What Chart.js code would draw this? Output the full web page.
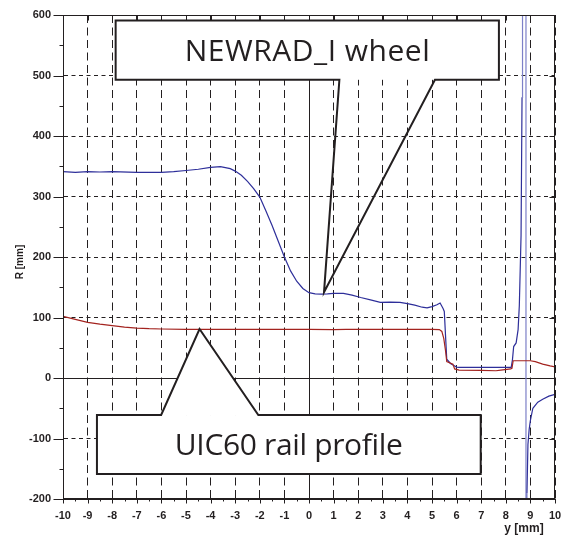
<!DOCTYPE html>
<html><head><meta charset="utf-8">
<script src="https://cdn.jsdelivr.net/npm/chart.js@4.4.0/dist/chart.umd.min.js"></script>
<style>html,body{margin:0;padding:0;background:#fff;} canvas{display:block;}</style>
</head><body>
<canvas id="c" width="562" height="541"></canvas>
<script>
// ---- data ----
const wheelY = [-10,-9.5,-9,-8.5,-8,-7,-6,-5.5,-5,-4.5,-4,-3.6,-3.2,-3.0,-2.75,-2.5,-2.25,-2,-1.75,-1.5,-1.25,-1,-0.75,-0.5,-0.25,0,0.25,0.5,0.75,1.0,1.4,1.75,2.1,2.5,2.9,3.3,3.7,4.0,4.3,4.6,4.8,5.0,5.2,5.33,5.45,5.5,5.55,5.6,5.75,5.87,6.0,6.1,7.0,8.0,8.22,8.27,8.32,8.42,8.5,8.55,8.62,8.66,8.68,8.82,8.82,8.86,8.9,8.95,9.0,9.1,9.3,9.5,9.75,10];
const wheelR = [341,340,341,340.5,341,340,340,341,343,345,348,349.5,346,342,335,325,313,299,276,252,226,200,177,160,148,141,139,138.5,139,140,140,137,133,129,125,125.5,125,123,120.5,117,116,118,121,124,115,110,70,31,24,21,18,17.5,17.5,17.5,17.5,30,52,58,80,120,235,464,3000,3000,-3000,-190,-110,-85,-70,-50,-40,-35,-30,-27];
const railY = [-10,-9.5,-9,-8.5,-8,-7.5,-7,-6.5,-6,-5,-4,0,1,1.5,2,3,4,5,5.3,5.4,5.48,5.55,5.6,5.85,5.92,6.1,7,7.6,7.8,8.2,8.25,8.3,9.0,9.2,9.5,9.8,10];
const railR = [102,97,92,89,86.5,84,82.5,81.5,81,80.5,80.5,80.5,80,80.5,80.5,80.5,80.5,80.5,80,77,65,45,27,23,15,13,12.5,12,13,15,16,28.5,28.5,27,23,20,18.5];
const xTickValues = [-10,-9,-8,-7,-6,-5,-4,-3,-2,-1,0,1,2,3,4,5,6,7,8,9,10];
const yTickValues = [-200,-100,0,100,200,300,400,500,600];
const xTitle = 'y [mm]';
const yTitle = 'R [mm]';
const callouts = [
  {text:'NEWRAD_I wheel', box:[-7.86,7.72,492.9,591], base:[1.235,5.12], tip:[0.61,141.6], side:'bottom', fillPointer:false, textWidth:245},
  {text:'UIC60 rail profile', box:[-8.62,6.98,-158.8,-61.2], base:[-6.01,-2.06], tip:[-4.45,81], side:'top', fillPointer:true, textWidth:228}
];

const INK = '#231f20';
const toPts = (xs, ys) => xs.map((v, i) => ({x: v, y: ys[i]}));

function outline(ctx, c, l, r, t, b, by, xa, xb, tx, ty) {
  ctx.beginPath();
  ctx.moveTo(xa, by); ctx.lineTo(l, by);
  if (c.side === 'bottom') { ctx.lineTo(l, t); ctx.lineTo(r, t); ctx.lineTo(r, b); }
  else { ctx.lineTo(l, b); ctx.lineTo(r, b); ctx.lineTo(r, t); }
  ctx.lineTo(xb, by); ctx.lineTo(tx, ty); ctx.closePath();
}

const decor = {
  id: 'decor',
  afterDatasetsDraw(chart) {
    const {ctx, chartArea: a, scales: {x, y}} = chart;
    ctx.save();
    // frame
    ctx.strokeStyle = INK; ctx.lineWidth = 1;
    const L = Math.round(a.left)+0.5, Rr = Math.round(a.right)-0.5, T = Math.round(a.top)+0.5, B = Math.round(a.bottom)-0.5;
    ctx.strokeRect(L, T, Rr - L, B - T);
    // ticks
    ctx.beginPath();
    for (let v = -10; v <= 10.001; v += 0.5) {
      const px = Math.round(x.getPixelForValue(v))+0.5;
      const major = Math.abs(v - Math.round(v)) < 1e-6;
      ctx.moveTo(px, B); ctx.lineTo(px, B + (major ? 5 : 3));
      if (major) { ctx.moveTo(px, T); ctx.lineTo(px, T + 5); }
    }
    for (let v = -200; v <= 600; v += 50) {
      const py = Math.round(y.getPixelForValue(v))+0.5;
      const major = v % 100 === 0;
      ctx.moveTo(L, py); ctx.lineTo(L - (major ? 10 : 4), py);
      if (major) { ctx.moveTo(Rr, py); ctx.lineTo(Rr - 5, py); }
    }
    ctx.stroke();
    // callouts
    for (const c of callouts) {
      const l = x.getPixelForValue(c.box[0]), r = x.getPixelForValue(c.box[1]);
      const t = y.getPixelForValue(c.box[3]), b = y.getPixelForValue(c.box[2]);
      const by = c.side === 'bottom' ? b : t;
      const xa = x.getPixelForValue(c.base[0]), xb = x.getPixelForValue(c.base[1]);
      const tx = x.getPixelForValue(c.tip[0]), ty = y.getPixelForValue(c.tip[1]);
      ctx.lineWidth = 2; ctx.strokeStyle = INK; ctx.lineJoin = 'miter';
      ctx.fillStyle = '#fff';
      ctx.fillRect(l, t, r - l, b - t);
      if (c.fillPointer) {
        ctx.beginPath(); ctx.moveTo(xa, by); ctx.lineTo(tx, ty); ctx.lineTo(xb, by); ctx.closePath(); ctx.fill();
      }
      outline(ctx, c, l, r, t, b, by, xa, xb, tx, ty);
      ctx.stroke();
      // text
      const size = 30;
      ctx.font = size + 'px "Open Sans", "Noto Sans", sans-serif';
      ctx.fillStyle = INK; ctx.textAlign = 'left'; ctx.textBaseline = 'alphabetic';
      const w0 = ctx.measureText(c.text).width;
      if ('letterSpacing' in ctx) { ctx.letterSpacing = ((c.textWidth - w0) / (c.text.length - 1)) + 'px'; }
      const cx = (l + r) / 2, cy = (t + b) / 2;
      ctx.fillText(c.text, cx - c.textWidth / 2, cy + 0.357 * size);
      if ('letterSpacing' in ctx) ctx.letterSpacing = '0px';
    }
    // axis titles
    ctx.fillStyle = INK;
    ctx.font = 'bold 12px "Liberation Sans", Arial, sans-serif';
    ctx.textAlign = 'center'; ctx.textBaseline = 'middle';
    ctx.fillText(xTitle, 524, 529);
    ctx.save();
    ctx.translate(20, 262); ctx.rotate(-Math.PI/2);
    ctx.font = 'bold 10px "Liberation Sans", Arial, sans-serif';
    ctx.fillText(yTitle, 0, 0);
    ctx.restore();
    ctx.restore();
  }
};

const gridDash = (d) => (c) => (c.tick && c.tick.value === 0) ? [] : d;
const tickFont = {family: '"Liberation Sans", Arial, sans-serif', size: 11, weight: 'bold'};
const steepColor = (col) => (s) => Math.abs(s.p1.parsed.y - s.p0.parsed.y) > 1000 ? col : undefined;

new Chart(document.getElementById('c'), {
  type: 'scatter',
  data: {
    datasets: [
      {data: toPts(railY, railR), showLine: true, borderColor: '#a3231f', borderWidth: 1.2, pointRadius: 0, tension: 0},
      {data: toPts(wheelY, wheelR), showLine: true, borderColor: '#2e2f9a', borderWidth: 1.2, pointRadius: 0, tension: 0,
       segment: {borderColor: steepColor('#7d80c8')}}
    ]
  },
  options: {
    responsive: false, animation: false, events: [],
    layout: {padding: {left: 0, right: 7, top: 15, bottom: 0}},
    plugins: {legend: {display: false}, tooltip: {enabled: false}},
    scales: {
      x: {
        type: 'linear', min: -10, max: 10,
        afterBuildTicks: s => { s.ticks = xTickValues.map(v => ({value: v})); },
        afterFit: s => { s.height = 42; s.paddingLeft = 0; s.paddingRight = 0; },
        ticks: {color: INK, font: tickFont, padding: 10, maxRotation: 0, autoSkip: false},
        grid: {color: INK, lineWidth: 1, drawTicks: false},
        border: {display: true, color: INK, width: 1, dash: gridDash([8, 4.5])}
      },
      y: {
        type: 'linear', min: -200, max: 600,
        afterBuildTicks: s => { s.ticks = yTickValues.map(v => ({value: v})); },
        afterFit: s => { s.width = 63; s.paddingTop = 0; s.paddingBottom = 0; },
        ticks: {color: INK, font: tickFont, padding: 12, autoSkip: false},
        grid: {color: INK, lineWidth: 1, drawTicks: false},
        border: {display: true, color: INK, width: 1, dash: gridDash([4, 3.5])}
      }
    }
  },
  plugins: [decor]
});
</script>
</body></html>
